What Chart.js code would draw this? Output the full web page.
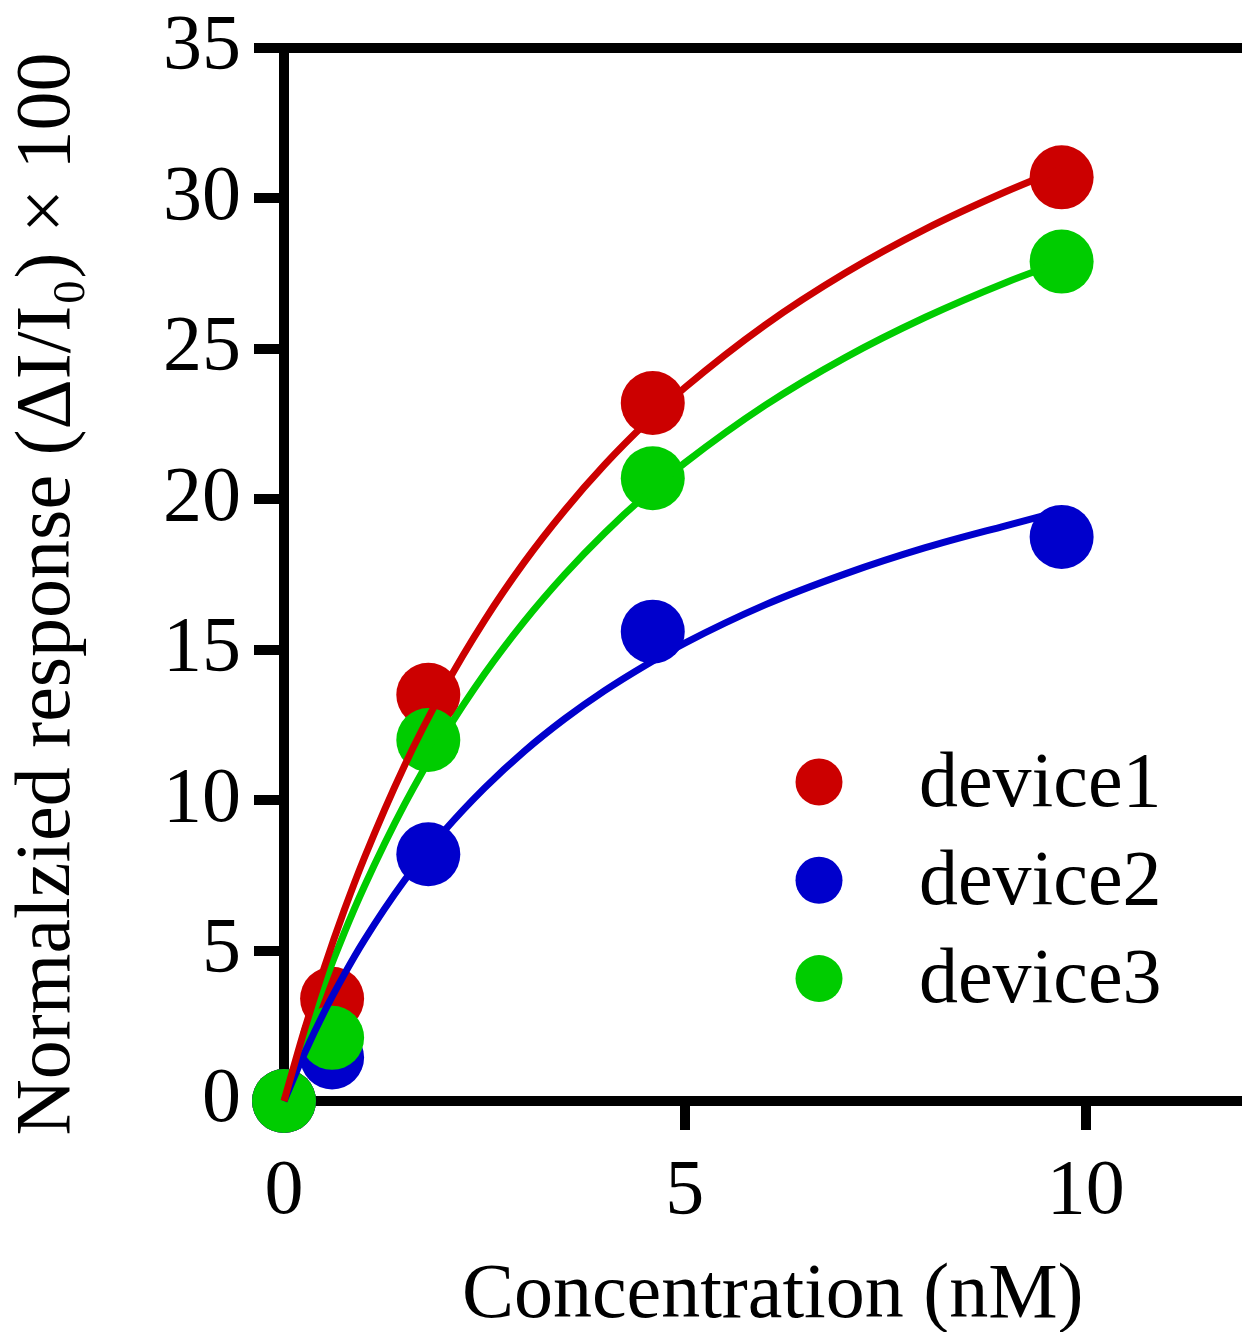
<!DOCTYPE html>
<html>
<head>
<meta charset="utf-8">
<script src="https://cdn.jsdelivr.net/npm/chart.js@4"></script>
<style>
  html, body { margin: 0; padding: 0; background: #fff; overflow: hidden; }
  #wrap { width: 1242px; height: 1332px; position: relative; }
  #wrap canvas { display: block; }
</style>
</head>
<body>
<div id="wrap"><canvas id="myChart"></canvas></div>
<script>
// measured points
var concentration = [0, 0.6, 1.8, 4.6, 9.7];
var device1 = [0, 3.4, 13.5, 23.2, 30.7];
var device2 = [0, 1.45, 8.2, 15.6, 18.75];
var device3 = [0, 2.1, 12.0, 20.7, 27.9];

// fitted curves
var fitX = [0, 0.25, 0.5, 0.75, 1, 1.5, 2, 2.5, 3, 3.5, 4, 4.5, 5, 6, 7, 8, 9, 9.7];
var fit1 = [0, 2.32, 4.42, 6.33, 8.07, 11.13, 13.73, 15.97, 17.92, 19.63, 21.15, 22.5, 23.71, 25.79, 27.52, 28.98, 30.22, 30.99];
var fit2 = [0, 1.55, 2.95, 4.2, 5.34, 7.32, 8.98, 10.4, 11.63, 12.7, 13.64, 14.47, 15.22, 16.49, 17.52, 18.39, 19.12, 19.61];
var fit3 = [0, 2.04, 3.89, 5.58, 7.12, 9.84, 12.17, 14.19, 15.95, 17.5, 18.88, 20.11, 21.21, 23.12, 24.71, 26.05, 27.2, 27.9];

var xTicks = [0, 5, 10];
var yTicks = [0, 5, 10, 15, 20, 25, 30, 35];
var seriesNames = ["device1", "device2", "device3"];
var seriesColors = ["#CC0000", "#0000CC", "#00CC00"];

var FONT = '"Liberation Serif", "Times New Roman", serif';

function pts(xs, ys) {
  return xs.map(function (x, i) { return { x: x, y: ys[i] }; });
}

var pointSets = [device1, device2, device3];
var fitSets = [fit1, fit2, fit3];
var datasets = [];

// curves on top of the dots
fitSets.forEach(function (ys, i) {
  datasets.push({
    data: pts(fitX, ys),
    showLine: true,
    borderColor: seriesColors[i],
    borderWidth: 7,
    pointRadius: 0,
    cubicInterpolationMode: 'monotone',
    fill: false,
    clip: false,
    order: 0
  });
});
pointSets.forEach(function (ys, i) {
  datasets.push({
    label: seriesNames[i],
    data: pts(concentration, ys),
    showLine: false,
    backgroundColor: seriesColors[i],
    borderWidth: 0,
    pointRadius: 32,
    clip: false,
    order: 3 - i
  });
});

// legend sits inside the plot, lower right
var legendInside = {
  id: 'legendInside',
  afterDatasetsDraw: function (chart) {
    var ctx = chart.ctx, area = chart.chartArea;
    ctx.save();
    ctx.font = '78px ' + FONT;
    ctx.textBaseline = 'alphabetic';
    ctx.textAlign = 'left';
    seriesNames.forEach(function (name, i) {
      var cy = area.top + 734 + i * 98.3;
      ctx.fillStyle = seriesColors[i];
      ctx.beginPath();
      ctx.arc(area.left + 535, cy, 23.5, 0, Math.PI * 2);
      ctx.fill();
      ctx.fillStyle = '#000';
      ctx.fillText(name, area.left + 635, cy + 23.5);
    });
    ctx.restore();
  }
};

new Chart("myChart", {
  type: "scatter",
  data: { datasets: datasets },
  plugins: [legendInside],
  options: {
    responsive: true,
    maintainAspectRatio: false,
    devicePixelRatio: 1,
    animation: false,
    events: [],
    layout: { autoPadding: false, padding: { top: 48, right: 0, left: 0, bottom: 0 } },
    plugins: {
      legend: { display: false },
      tooltip: { enabled: false }
    },
    scales: {
      x: {
        type: 'linear',
        min: 0,
        max: 11.95,
        afterBuildTicks: function (s) { s.ticks = xTicks.map(function (v) { return { value: v }; }); },
        afterFit: function (s) { s.height = 231; s.paddingLeft = 0; s.paddingRight = 0; },
        ticks: { font: { family: FONT, size: 78 }, color: '#000', padding: 16, maxRotation: 0 },
        grid: { drawOnChartArea: false, lineWidth: 10, tickLength: 29, tickWidth: 10, tickColor: '#000' },
        border: { display: true, color: '#000', width: 10 },
        title: {
          display: true,
          text: '\u00A0Concentration (nM)',
          color: '#000',
          font: { family: FONT, size: 78, lineHeight: 1 },
          padding: { top: 0, bottom: -4 }
        }
      },
      y: {
        type: 'linear',
        min: 0,
        max: 35,
        afterBuildTicks: function (s) { s.ticks = yTicks.map(function (v) { return { value: v }; }); },
        afterFit: function (s) { s.width = 284; s.paddingTop = 0; s.paddingBottom = 0; },
        ticks: { font: { family: FONT, size: 78 }, color: '#000', padding: 13 },
        grid: {
          drawOnChartArea: true,
          color: function (c) { return c.tick && c.tick.value === 35 ? '#000' : 'rgba(0,0,0,0)'; },
          lineWidth: 10,
          tickLength: 30,
          tickWidth: 10,
          tickColor: '#000'
        },
        border: { display: true, color: '#000', width: 10 },
        title: {
          display: true,
          text: 'Normalzied response (ΔI/I₀) × 100\u00A0\u00A0',
          color: '#000',
          font: { family: FONT, size: 78 },
          padding: { top: 2, bottom: 0 }
        }
      }
    }
  }
});
</script>
</body>
</html>
